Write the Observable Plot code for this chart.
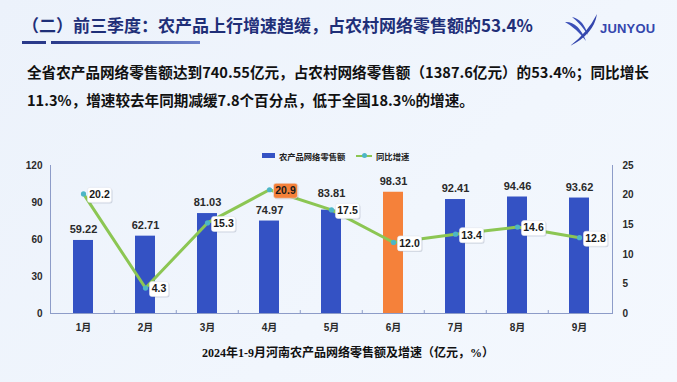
<!DOCTYPE html>
<html>
<head>
<meta charset="utf-8">
<script src="https://cdn.jsdelivr.net/npm/d3@7"></script>
<script src="https://cdn.jsdelivr.net/npm/@observablehq/plot@0.6"></script>
<style>
  html, body { margin: 0; padding: 0; }
  body {
    width: 677px; height: 382px; position: relative; overflow: hidden;
    background: linear-gradient(135deg, #ecf2fb 0%, #f1f6fd 60%, #f4f8fe 100%);
    font-family: "Noto Sans CJK SC", "Noto Sans", sans-serif;
  }
  #title {
    position: absolute; left: 22px; top: 12px; font-size: 17px; font-weight: bold;
    color: #1f2f78; white-space: nowrap; line-height: 26px;
  }
  #bar1 { position: absolute; left: 22px; top: 41px; width: 24px; height: 3px; background: #2a3a8a; }
  #bar2 { position: absolute; left: 51px; top: 41px; width: 149px; height: 3px;
    background: linear-gradient(90deg, #2a3a8a, #6d82cc); }
  #logo { position: absolute; left: 565px; top: 14px; }
  #logotext { position: absolute; left: 600px; top: 21px; font-family: "Liberation Sans", Arial, sans-serif;
    font-weight: bold; font-size: 13px; color: #3446ad; letter-spacing: 0.2px; }
  #para {
    position: absolute; left: 27px; top: 58px; width: 640px; font-size: 14.6px; font-weight: bold;
    color: #111; line-height: 28px;
  }
  #chart { position: absolute; left: 0; top: 140px; }
  #legend { position: absolute; top: 147px; left: 262px; font-size: 8.3px; font-weight: bold; color: #222;
    white-space: nowrap; line-height: 14px; }
  #legend span { display: inline-block; vertical-align: middle; }
  #caption { position: absolute; top: 343px; left: 0; width: 696px; text-align: center;
    font-family: "Liberation Serif", "Noto Sans CJK SC", serif; font-weight: bold; font-size: 12px; color: #111; }
  #caption .cjk { font-family: "Noto Sans CJK SC", sans-serif; }
  #chart g[aria-label="y-axis tick label"] text,
  #chart g[aria-label="x-axis tick label"] text { font-weight: bold; fill: #2a2a2a; }
</style>
</head>
<body>
<div id="title">（二）前三季度：农产品上行增速趋缓，占农村网络零售额的53.4%</div>
<div id="bar1"></div><div id="bar2"></div>
<svg id="logo" width="34" height="32" viewBox="0 0 34 32">
  <path d="M0 8 Q13 7 21 27 Q11 14 0 8Z" fill="#3a4fb8"/>
  <path d="M7 3 Q18 5 23 21 Q15 9 7 3Z" fill="#3a4fb8"/>
  <path d="M32 0 Q29 20 5 32 Q23 18 32 0Z" fill="#3446ad"/>
</svg>
<div id="logotext">JUNYOU</div>
<div id="para">全省农产品网络零售额达到740.55亿元，占农村网络零售额（1387.6亿元）的53.4%；同比增长11.3%，增速较去年同期减缓7.8个百分点，低于全国18.3%的增速。</div>
<div id="chart"></div>
<div id="legend">
  <span style="width:13px;height:5px;background:#3452c4;"></span>
  <span style="margin-left:2px;">农产品网络零售额</span>
  <span style="margin-left:9px;position:relative;width:16px;height:6px;">
    <span style="position:absolute;left:0;top:2px;width:16px;height:2px;background:#8cc653;"></span>
    <span style="position:absolute;left:6px;top:0.5px;width:5px;height:5px;border-radius:50%;background:#4db6c6;"></span>
  </span>
  <span style="margin-left:2px;">同比增速</span>
</div>
<div id="caption">2024<span class="cjk">年</span>1-9<span class="cjk">月河南农产品网络零售额及增速（亿元，</span>%<span class="cjk">）</span></div>
<script>
// ---- data ----
const months = ["1月", "2月", "3月", "4月", "5月", "6月", "7月", "8月", "9月"];
const sales = [59.22, 62.71, 81.03, 74.97, 83.81, 98.31, 92.41, 94.46, 93.62];
const growth = [20.2, 4.3, 15.3, 20.9, 17.5, 12.0, 13.4, 14.6, 12.8];
const leftTicks = [0, 30, 60, 90, 120];
const rightTicks = [0, 5, 10, 15, 20, 25];
const highlightSalesMonth = "6月";
const highlightGrowthMonth = "4月";
const raisedLabelMonth = "5月";

// ---- styling ----
const blue = "#3452c4", orange = "#f5813a", green = "#8cc653", teal = "#4db6c6", axisColor = "#8d9cc8";
const W = 677, H = 200, mL = 50, mR = 65, mT = 25, mB = 27;
const step = (W - mL - mR) / months.length;
const ratio = leftTicks[leftTicks.length - 1] / rightTicks[rightTicks.length - 1];

const data = months.map((m, i) => ({month: m, sales: sales[i], growth: growth[i], label: growth[i].toFixed(1)}));

function roundRect(w, h, r) {
  return {draw(ctx) {
    const x = -w / 2, y = -h / 2;
    ctx.moveTo(x + r, y); ctx.lineTo(x + w - r, y); ctx.arcTo(x + w, y, x + w, y + r, r);
    ctx.lineTo(x + w, y + h - r); ctx.arcTo(x + w, y + h, x + w - r, y + h, r);
    ctx.lineTo(x + r, y + h); ctx.arcTo(x, y + h, x, y + h - r, r);
    ctx.lineTo(x, y + r); ctx.arcTo(x, y, x + r, y, r); ctx.closePath();
  }};
}
const gy = d => d.growth * ratio;
const boxFill = d => d.month === highlightGrowthMonth ? orange : "white";
const long = data.filter(d => d.label.length >= 4);
const short = data.filter(d => d.label.length < 4);
const wLong = 24, wShort = 19, bh = 15, gap = 4;

function boxes(arr, w) {
  return [
    Plot.dot(arr, {x: "month", y: gy, r: 5, symbol: roundRect(w, bh, 2.5), dx: gap + w / 2 + 1, dy: 2, fill: "rgba(60,70,100,0.18)", stroke: "none"}),
    Plot.dot(arr, {x: "month", y: gy, r: 5, symbol: roundRect(w, bh, 2.5), dx: gap + w / 2, dy: 1, fill: boxFill, stroke: "#e2e6ee", strokeWidth: 0.6}),
    Plot.text(arr, {x: "month", y: gy, text: "label", dx: gap + w / 2, dy: 1, fontSize: 10.5, fontWeight: "bold", fill: "#1a1a1a"})
  ];
}

const chart = Plot.plot({
  width: W, height: H, marginTop: mT, marginBottom: mB, marginLeft: mL, marginRight: mR,
  style: {background: "transparent", fontFamily: "'Liberation Sans', Arial, 'Noto Sans CJK SC', sans-serif", overflow: "visible"},
  x: {domain: months, paddingInner: 0.67, paddingOuter: 0.335, label: null},
  y: {domain: [0, 120], label: null},
  color: {type: "identity"},
  marks: [
    Plot.barY(data, {x: "month", y: "sales", fill: d => d.month === highlightSalesMonth ? orange : blue}),
    Plot.frame({anchor: "left", stroke: axisColor}),
    Plot.frame({anchor: "right", stroke: axisColor}),
    Plot.ruleY([0], {stroke: axisColor}),
    Plot.ruleX(months.slice(1), {x: d => d, dx: -step / 2, y1: 0, y2: 2.4, stroke: axisColor}),
    Plot.axisY({ticks: leftTicks, tickSize: 0, tickPadding: 8, fontSize: 10, label: null}),
    Plot.axisY({anchor: "right", ticks: rightTicks.map(v => v * ratio), tickFormat: d => String(Math.round(d / ratio)), tickSize: 0, tickPadding: 10, fontSize: 10, label: null}),
    Plot.axisX({tickSize: 0, tickPadding: 10, fontSize: 10, label: null}),
    Plot.text(data.filter(d => d.month !== raisedLabelMonth), {x: "month", y: "sales", text: d => d.sales.toFixed(2), dy: -11, fontSize: 11, fontWeight: "bold", fill: "#2a2a2a"}),
    Plot.text(data.filter(d => d.month === raisedLabelMonth), {x: "month", y: "sales", text: d => d.sales.toFixed(2), dy: -17, fontSize: 11, fontWeight: "bold", fill: "#2a2a2a"}),
    Plot.line(data, {x: "month", y: gy, stroke: green, strokeWidth: 3}),
    Plot.dot(data, {x: "month", y: gy, r: 2.6, fill: teal, stroke: "none"}),
    ...boxes(long, wLong),
    ...boxes(short, wShort)
  ]
});
document.getElementById("chart").appendChild(chart);
</script>
</body>
</html>
